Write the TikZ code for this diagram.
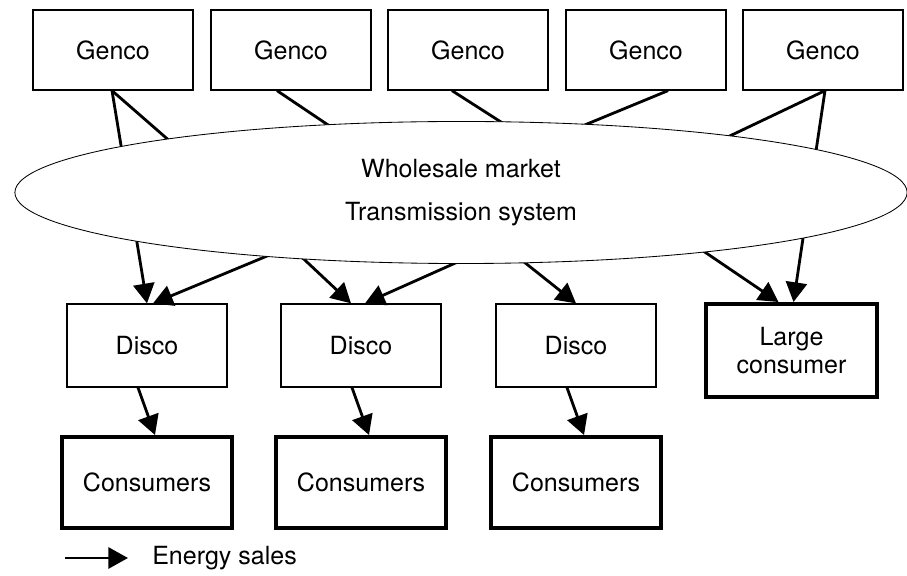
\documentclass[tikz,border=0pt]{standalone}
\usepackage{fontspec}
\setmainfont{TeX Gyre Heros}
\usetikzlibrary{arrows.meta, calc, backgrounds, shapes.geometric}

\begin{document}
\begin{tikzpicture}[x=0.025cm, y=-0.025cm,
      every node/.style={font=\fontsize{17.8}{21}\selectfont, inner sep=0pt},
      genco/.style={draw, line width=0.9pt, minimum width=4cm, minimum height=2cm},
      disco/.style={draw, line width=0.9pt, minimum width=4cm, minimum height=2.075cm},
      buyer/.style={draw, line width=2.8pt, minimum width=4.25cm, minimum height=2.275cm, align=center},
      market/.style={ellipse, draw, fill=white, line width=0.6pt, minimum width=22.3cm, minimum height=3.55cm, align=center},
      sale/.style={line width=2pt, -{Triangle[length=14pt,width=15pt]}},
      feed/.style={line width=2pt}]
  \useasboundingbox (0,0) rectangle (907,576);

  \foreach \x [count=\i] in {113,291,468,646,823}
    \node[genco] (g\i) at (\x,50) {Genco};

  \node[market] (mkt) at (461,192.5) {Wholesale market\\[9.5pt]Transmission system};

  \foreach \x [count=\i] in {147,361,576}{
    \node[disco] (d\i) at (\x,345.5) {Disco};
    \node[buyer] (c\i) at (\x,482.5) {Consumers};
  }
  \node[buyer, minimum width=4.275cm, minimum height=2.325cm,
        font=\fontsize{17.8}{20}\selectfont] (lc) at (791.5,350.5) {Large\\consumer};

  \coordinate (m1) at (180,150);
  \coordinate (m2) at (340,133);
  \coordinate (m3) at (515,131);
  \coordinate (m4) at (575,129);
  \coordinate (m5) at (715,143);
  \coordinate (s1) at (296,244);
  \coordinate (s2) at (292,248);
  \coordinate (s3) at (480,252);
  \coordinate (s4) at (509,250);
  \coordinate (s5) at (690,242);

  \begin{scope}[on background layer]
    \draw[sale] ($(g1.south)+(-1,0)$) -- (d1.north);
    \draw[feed] ($(g1.south)+(-1,0)$) -- (m1);
    \draw[feed] ($(g2.south)+(-14,0)$) -- (m2);
    \draw[feed] ($(g3.south)+(-16,0)$) -- (m3);
    \draw[feed] ($(g4.south)+(22,0)$) -- (m4);
    \draw[feed] ($(g5.south)+(2,0)$) -- (m5);
    \draw[sale] ($(g5.south)+(2,0)$) -- ($(lc.north)+(2,0)$);
    \draw[sale] (s1) -- ($(d1.north)+(6,0)$);
    \draw[sale] (s2) -- ($(d2.north)+(-10,0)$);
    \draw[sale] (s3) -- ($(d2.north)+(4,0)$);
    \draw[sale] (s4) -- (d3.north);
    \draw[sale] (s5) -- ($(lc.north)+(-13,0)$);
  \end{scope}

  \foreach \i in {1,2,3}
    \draw[sale] ($(d\i.south)+(-9,0)$) -- ($(c\i.north)+(8,0)$);

  \node[anchor=west] (key) at (152,558) {Energy sales};
  \coordinate (keystart) at (65,558);
  \draw[sale] (keystart) -- ($(key.west)+(-24,0)$);
\end{tikzpicture}
\end{document}
